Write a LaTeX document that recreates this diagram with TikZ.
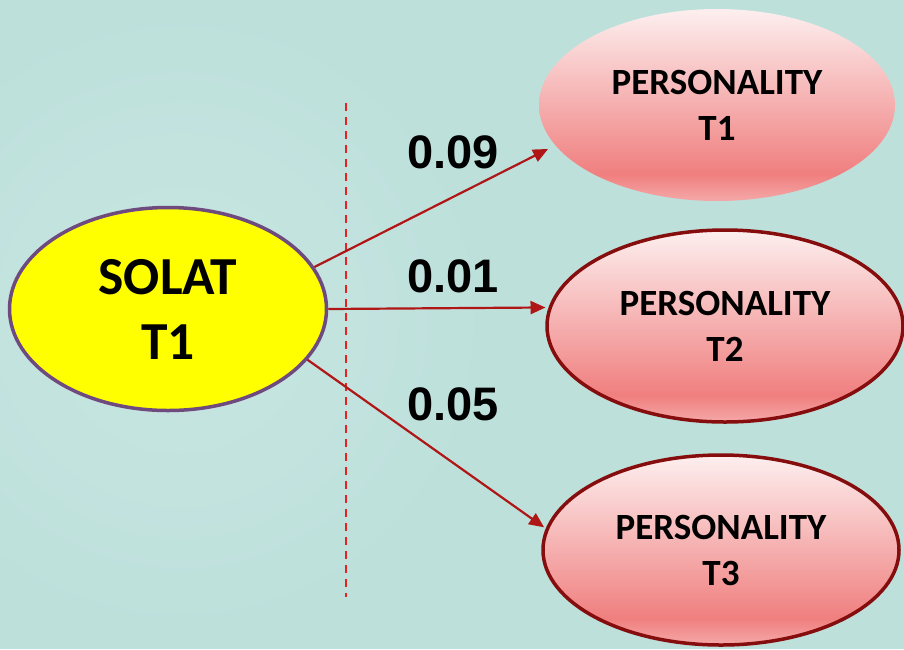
\documentclass[tikz,border=0pt]{standalone}
\usepackage{fontspec}
\setmainfont{Carlito}
\newfontfamily\numfont{Liberation Sans}
\usetikzlibrary{arrows.meta,shapes.geometric}

\definecolor{bgteal}{HTML}{BDE0DB}
\definecolor{bgglow}{HTML}{C8E6E2}
\definecolor{solatfill}{HTML}{FFFF00}
\definecolor{solatedge}{HTML}{6E4A7E}
\definecolor{ptop}{HTML}{FDEFEF}
\definecolor{pmid}{HTML}{F07F7F}
\definecolor{pbot}{HTML}{F5A8A8}
\definecolor{pedge}{HTML}{860D0D}
\definecolor{arrowred}{HTML}{B01616}
\definecolor{dashred}{HTML}{E52222}

% pink top-to-bottom gradient of the personality ellipses
\pgfdeclareverticalshading{pinkgrad}{100bp}{%
  color(0bp)=(pbot); color(25bp)=(pbot); color(32bp)=(pmid);
  color(75bp)=(ptop); color(100bp)=(ptop)}

\tikzset{
  solatnode/.style={ellipse, fill=solatfill, draw=solatedge, line width=3.5pt,
    minimum width=317pt, minimum height=203pt, inner sep=0pt, align=center,
    font=\fontsize{53.5}{65}\selectfont\bfseries},
  persnode/.style={ellipse, shading=pinkgrad, inner sep=0pt, align=center,
    minimum width=356pt, minimum height=192pt,
    font=\fontsize{37}{46}\selectfont\bfseries},
  persedge/.style={draw=pedge, line width=3.5pt},
  link/.style={draw=arrowred, line width=2.2pt,
    -{Triangle[length=15pt,width=13pt]}},
  coef/.style={font=\numfont\fontsize{47}{50}\selectfont\bfseries},
  divider/.style={draw=dashred, line width=2pt, dash pattern=on 8pt off 6pt}
}

\begin{document}
\begin{tikzpicture}[x=1pt,y=-1pt]
  % background
  \fill[bgteal] (0,0) rectangle (904,649);
  \useasboundingbox (0,0) rectangle (904,649);
  \shade[inner color=bgglow, outer color=bgteal] (180,320) circle (320);

  % dashed divider
  \coordinate (dtop) at (346,103);
  \coordinate (dbot) at (346,597);
  \draw[divider] (dtop) -- (dbot);

  % nodes
  \node[solatnode] (solat) at (168,309) {SOLAT\\T1};
  \node[persnode] (p1) at (717,105) {PERSONALITY\\T1};
  \node[persnode, persedge] (p2) at (725,326) {PERSONALITY\\T2};
  \node[persnode, persedge, minimum height=190pt] (p3) at (721,550) {PERSONALITY\\T3};

  % paths with coefficients
  \draw[link, shorten >=8pt] (solat.16) -- (p1.194);
  \draw[link, shorten >=3pt] (solat.east) -- (p2.174);
  \draw[link, shorten >=2pt] (solat.-20) -- (p3.173);

  \node[coef] (c1) at (453,152) {0.09};
  \node[coef] (c2) at (453,276) {0.01};
  \node[coef] (c3) at (453,404) {0.05};
\end{tikzpicture}
\end{document}
